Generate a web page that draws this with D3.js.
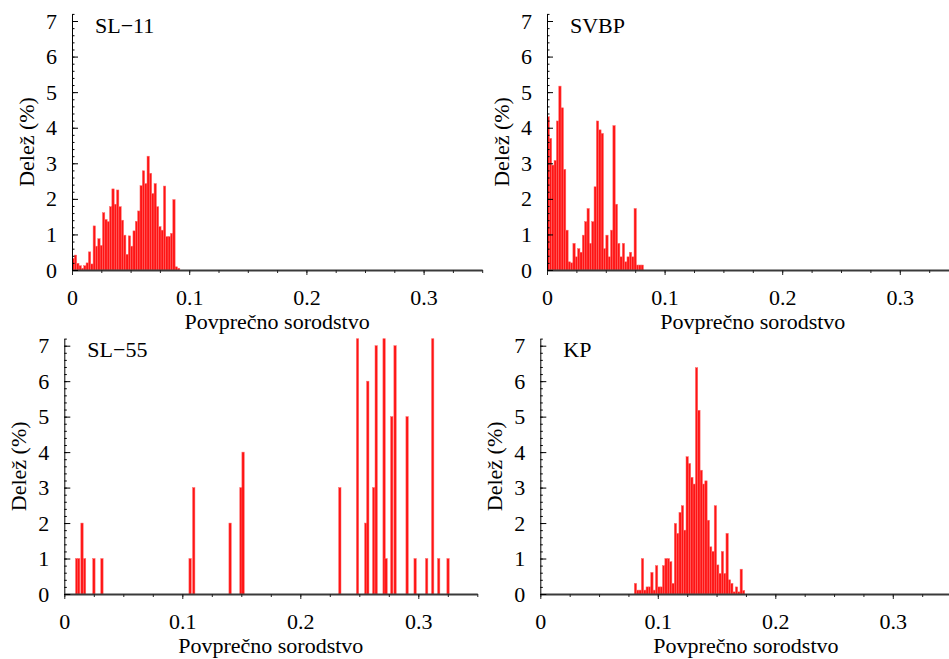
<!DOCTYPE html>
<html>
<head>
<meta charset="utf-8">
<script src="https://cdn.jsdelivr.net/npm/d3@7"></script>
<style>
    body { margin: 0; background: #fff; }
    .x-axis path { stroke: #3a3a3a; stroke-width: 2; }
    .x-axis line { stroke: #222; }
    .y-axis path, .y-axis line { stroke: #000; }
</style>
</head>
<body>
<svg id="chart" width="949" height="659"></svg>
<script>
// histogram bin width (Povprečno sorodstvo)
const binWidth = 0.002;

const sl11Start = 0;
const sl11Values = [0.33, 0.42, 0.19, 0.12, 0.05, 0.12, 0.2, 0.51, 0.17, 1.24, 0.67, 0.88, 0.69, 1.61, 1.42, 1.36,
    1.78, 2.28, 1.85, 2.25, 1.78, 1.4, 0.98, 0.44, 0.96, 0.67, 1.1, 1.37, 1.66, 2.37, 2.79, 2.43, 3.2, 2.72, 2.15,
    2.43, 1.78, 1.22, 1.12, 2.36, 0.94, 0.94, 1.03, 1.98, 0.09, 0.05];

const svbpStart = 0;
const svbpValues = [4.31, 3.7, 2.95, 3.08, 4.19, 5.17, 4.56, 2.83, 1.12, 0.23, 0.2, 0.75, 0.37, 0.6, 0.5, 0.98,
    1.36, 1.73, 0.75, 1.36, 2.34, 4.19, 3.94, 3.84, 0.6, 0.98, 0.37, 1.12, 4.06, 1.85, 0.75, 0.37, 0.75, 0.23,
    0.37, 0.5, 0.37, 1.73, 0.14, 0.14, 0.14];

const kpStart = 0.08;
const kpValues = [0.3, 0.11, 0.11, 1.0, 0.11, 0.2, 0.2, 0.61, 0.11, 0.8, 0.2, 0.2, 0.8, 1.0, 1.0, 0.91, 0.3,
    1.99, 1.71, 2.3, 2.49, 1.8, 3.87, 3.68, 3.29, 3.1, 6.38, 5.18, 3.49, 3.1, 3.19, 2.08, 1.33, 1.2, 2.49, 0.82,
    0.58, 1.2, 0.58, 1.71, 0.4, 0.3, 0.06, 0.2, 0.06, 0.7, 0.1];

// SL-55: few individuals, single bars (centre of bar)
const sl55Positions = [0.0105, 0.0122, 0.015, 0.0172, 0.0251, 0.0319, 0.1066, 0.1097, 0.1405, 0.1497, 0.1515,
    0.2335, 0.2485, 0.2555, 0.2572, 0.2622, 0.2643, 0.271, 0.2727, 0.2775, 0.2803, 0.2905, 0.2973, 0.3071,
    0.3122, 0.3173, 0.3252];
const sl55Values = [1, 1, 2, 1, 1, 1, 1, 3, 2, 3, 4, 3, 13, 2, 6, 3, 7, 14, 1, 5, 7, 5, 1, 1, 15, 1, 1];

const xTicks = [0, 0.1, 0.2, 0.3];
const yTicks = [0, 1, 2, 3, 4, 5, 6, 7];
const panelTitles = ["SL\u221211", "SVBP", "SL\u221255", "KP"];
const xAxisTitle = "Povprečno sorodstvo";
const yAxisTitle = "Delež (%)";

const serif = "'Liberation Serif', 'Times New Roman', Times, serif";

function histBars(start, values) {
    return values.map((v, i) => ({ x0: start + i * binWidth, x1: start + (i + 1) * binWidth, v: v }));
}

let panels = [
    { title: panelTitles[0], bars: histBars(sl11Start, sl11Values), left: 72, kx: 1172, base: 270, top: 13.9 },
    { title: panelTitles[1], bars: histBars(svbpStart, svbpValues), left: 547, kx: 1176, base: 270, top: 13.9 },
    { title: panelTitles[2], bars: sl55Positions.map((p, i) => ({ x0: p - binWidth / 2, x1: p + binWidth / 2, v: sl55Values[i] })),
        left: 64.3, kx: 1180, base: 594, top: 338.6 },
    { title: panelTitles[3], bars: histBars(kpStart, kpValues), left: 540.3, kx: 1175, base: 594, top: 338.6 }
];

let svg = d3.select("#chart");

panels.forEach((p, i) => {
    let x = d3.scaleLinear().domain([0, 0.35]).range([p.left, p.left + 0.35 * p.kx]);
    let y = d3.scaleLinear().domain([0, 7.2]).range([p.base, p.top]);
    let g = svg.append("g");

    svg.append("clipPath").attr("id", "clip" + i).append("rect")
        .attr("x", p.left).attr("y", p.top).attr("width", 0.35 * p.kx).attr("height", p.base - p.top);

    g.append("g").attr("clip-path", "url(#clip" + i + ")")
        .selectAll("rect").data(p.bars).join("rect")
        .attr("x", d => x(d.x0)).attr("width", d => x(d.x1) - x(d.x0))
        .attr("y", d => y(d.v)).attr("height", d => y(0) - y(d.v))
        .attr("fill", "#ff0000").attr("fill-opacity", 0.92)
        .attr("stroke", "#ff6a6a").attr("stroke-width", 0.5);

    // x axis: minor ticks every 0.025, labelled ticks at 0.1
    g.append("g").attr("class", "x-axis").attr("transform", "translate(0," + p.base + ")")
        .call(d3.axisBottom(x).tickValues(d3.range(0, 0.351, 0.025)).tickSize(3).tickSizeOuter(0).tickFormat(""));
    let xMajor = g.append("g").attr("class", "x-axis").attr("transform", "translate(0," + p.base + ")")
        .call(d3.axisBottom(x).tickValues(xTicks).tickSize(5).tickSizeOuter(0).tickPadding(14).tickFormat(d3.format("")));
    xMajor.select(".domain").remove();
    xMajor.attr("font-family", null).attr("font-size", null);
    xMajor.selectAll("text").style("font-family", serif).style("font-size", "22px").attr("fill", "#000");

    // y axis: ticks on the inside
    g.append("g").attr("class", "y-axis").attr("transform", "translate(" + p.left + ",0)")
        .call(d3.axisLeft(y).tickValues(d3.range(0, 7.21, 0.2)).tickSize(-2.5).tickSizeOuter(0).tickFormat(""));
    let yMajor = g.append("g").attr("class", "y-axis").attr("transform", "translate(" + p.left + ",0)")
        .call(d3.axisLeft(y).tickValues(yTicks).tickSize(-6).tickSizeOuter(0).tickPadding(15).tickFormat(d3.format("d")));
    yMajor.select(".domain").remove();
    yMajor.attr("font-family", null).attr("font-size", null);
    yMajor.selectAll("text").style("font-family", serif).style("font-size", "22px").attr("fill", "#000");

    g.append("text").attr("x", p.left + 23).attr("y", p.base - 237)
        .style("font-family", serif).style("font-size", "22px").text(p.title);

    g.append("text").attr("x", p.left + 0.175 * p.kx).attr("y", p.base + 58.5)
        .attr("text-anchor", "middle").style("font-family", serif).style("font-size", "22px").text(xAxisTitle);

    g.append("text").attr("transform", "translate(" + (p.left - 38) + "," + ((p.base + p.top) / 2) + ") rotate(-90)")
        .attr("text-anchor", "middle").style("font-family", serif).style("font-size", "22px").text(yAxisTitle);
});
</script>
</body>
</html>
